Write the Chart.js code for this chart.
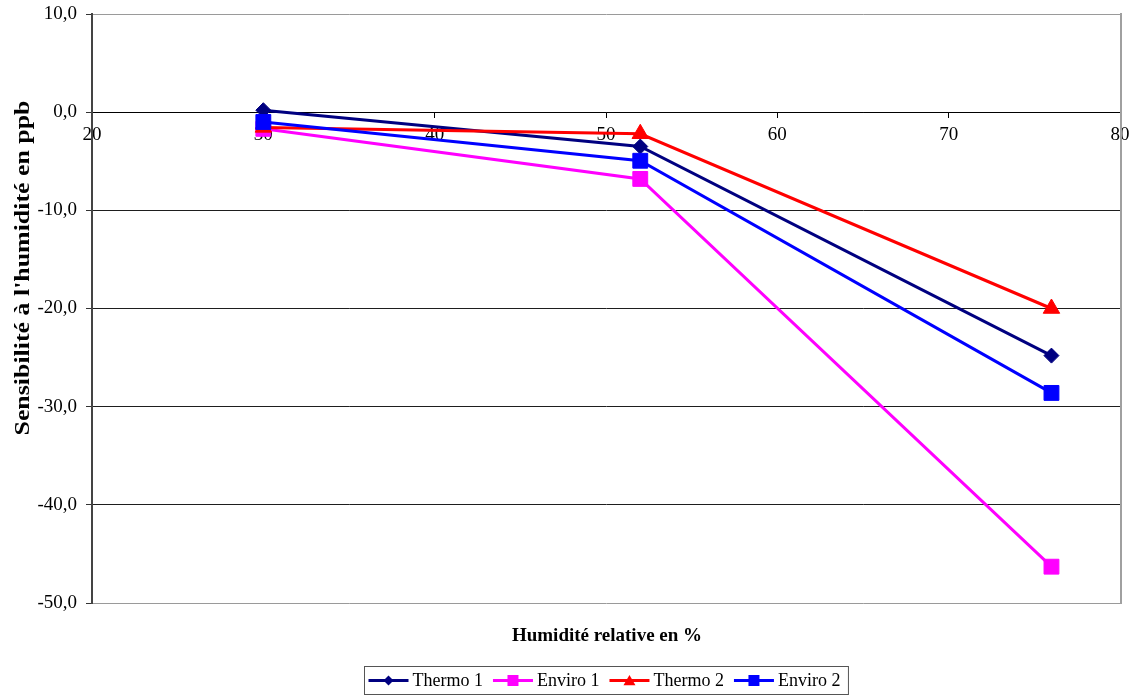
<!DOCTYPE html>
<html lang="fr">
<head>
<meta charset="utf-8">
<title>Sensibilité à l'humidité</title>
<script src="https://cdn.jsdelivr.net/npm/chart.js@4/dist/chart.umd.min.js"></script>
<style>
  html, body { margin: 0; padding: 0; background: #ffffff; }
  canvas { display: block; }
</style>
</head>
<body>
<canvas id="c" width="1142" height="697"></canvas>
<script>
// Humidité relative (%) des points de mesure
const humidity = [30, 52, 76];

// Sensibilité à l'humidité (ppb) par analyseur
const thermo1 = [0.2, -3.5, -24.8];
const enviro1 = [-1.7, -6.8, -46.3];
const thermo2 = [-1.55, -2.2, -20.0];
const enviro2 = [-1.0, -4.95, -28.6];

const seriesNames = ['Thermo 1', 'Enviro 1', 'Thermo 2', 'Enviro 2'];
const seriesColors = ['#000080', '#ff00ff', '#ff0000', '#0000ff'];
const seriesMarkers = ['rectRot', 'rect', 'triangle', 'rect'];
const markerRadius = [7.5, 10.5, 9.5, 10.5];

const xTitle = 'Humidité relative en %';
const yTitle = "Sensibilité à l'humidité en ppb";

const FONT = "'Liberation Serif', 'Times New Roman', serif";

const seriesValues = [thermo1, enviro1, thermo2, enviro2];

function toPoints(values) {
  return humidity.map((h, i) => ({ x: h, y: values[i] }));
}

const datasets = seriesNames.map((name, i) => ({
  label: name,
  data: toPoints(seriesValues[i]),
  borderColor: seriesColors[i],
  backgroundColor: seriesColors[i],
  pointBackgroundColor: seriesColors[i],
  pointBorderColor: seriesColors[i],
  pointStyle: seriesMarkers[i],
  pointRadius: markerRadius[i],
  pointHoverRadius: markerRadius[i],
  pointBorderWidth: 1,
  borderWidth: 3,
  tension: 0,
  fill: false,
  clip: false,
  // later series are painted over earlier ones
  order: seriesNames.length - i
}));

// small marker shapes for the legend
function drawMarker(ctx, style, x, y, size, color) {
  ctx.save();
  ctx.fillStyle = color;
  ctx.beginPath();
  if (style === 'rectRot') {
    ctx.moveTo(x - size, y); ctx.lineTo(x, y - size);
    ctx.lineTo(x + size, y); ctx.lineTo(x, y + size);
  } else if (style === 'triangle') {
    ctx.moveTo(x - size, y + size * 0.8); ctx.lineTo(x, y - size * 0.9);
    ctx.lineTo(x + size, y + size * 0.8);
  } else {
    ctx.rect(x - size, y - size, size * 2, size * 2);
  }
  ctx.closePath();
  ctx.fill();
  ctx.restore();
}

const decorations = {
  id: 'decorations',
  beforeDatasetsDraw(chart) {
    const { ctx, chartArea } = chart;
    // right frame edge of the plot area
    ctx.save();
    ctx.strokeStyle = '#a0a0a0';
    ctx.lineWidth = 2;
    ctx.beginPath();
    ctx.moveTo(chartArea.right + 1, chartArea.top - 1);
    ctx.lineTo(chartArea.right + 1, chartArea.bottom + 1);
    ctx.stroke();
    ctx.restore();
  },
  afterDraw(chart) {
    const { ctx, chartArea } = chart;
    const cx = (chartArea.left + chartArea.right) / 2;

    // axis titles
    ctx.save();
    ctx.fillStyle = '#000';
    ctx.font = 'bold 19px ' + FONT;
    ctx.textAlign = 'center';
    ctx.textBaseline = 'middle';
    ctx.fillText(xTitle, cx + 1, 636);
    ctx.font = 'bold 21px ' + FONT;
    ctx.translate(24, 268);
    ctx.rotate(-Math.PI / 2);
    const w = ctx.measureText(yTitle).width;
    ctx.scale(335 / w, 1);
    ctx.fillText(yTitle, 0, 0);
    ctx.restore();

    // legend
    ctx.save();
    ctx.font = '18px ' + FONT;
    ctx.textBaseline = 'middle';
    ctx.textAlign = 'left';
    const lineLen = 40, gapLine = 4, gapItem = 10, padL = 4, padR = 8;
    const widths = seriesNames.map(n => ctx.measureText(n).width);
    let total = padL + padR;
    widths.forEach((tw, i) => { total += lineLen + gapLine + tw + (i ? gapItem : 0); });
    const boxLeft = Math.round(cx - total / 2) + 0.5;
    const boxTop = 666.5, boxH = 28;
    const ly = boxTop + boxH / 2;
    ctx.strokeStyle = '#555';
    ctx.lineWidth = 1;
    ctx.strokeRect(boxLeft, boxTop, total, boxH);
    let x = boxLeft + padL;
    seriesNames.forEach((name, i) => {
      if (i) x += gapItem;
      ctx.strokeStyle = seriesColors[i];
      ctx.lineWidth = 3;
      ctx.beginPath();
      ctx.moveTo(x, ly);
      ctx.lineTo(x + lineLen, ly);
      ctx.stroke();
      const msize = seriesMarkers[i] === 'rectRot' ? 5 : seriesMarkers[i] === 'triangle' ? 6 : 5.5;
      drawMarker(ctx, seriesMarkers[i], x + lineLen / 2, ly, msize, seriesColors[i]);
      x += lineLen + gapLine;
      ctx.fillStyle = '#000';
      ctx.fillText(name, x, ly + 1);
      x += widths[i];
    });
    ctx.restore();
  }
};

new Chart(document.getElementById('c'), {
  type: 'line',
  data: { datasets },
  options: {
    responsive: false,
    devicePixelRatio: 1,
    animation: false,
    layout: { padding: { top: 14, right: 22, bottom: 94, left: 0 } },
    plugins: {
      legend: { display: false },
      tooltip: { enabled: false },
      title: { display: false }
    },
    scales: {
      x: {
        type: 'linear',
        position: { y: 0 },
        min: 20,
        max: 80,
        afterFit(scale) { scale.paddingLeft = 0; scale.paddingRight = 0; },
        ticks: {
          stepSize: 10,
          color: '#000',
          font: { family: FONT, size: 19 },
          padding: 6,
          maxRotation: 0
        },
        grid: {
          drawOnChartArea: false,
          drawTicks: true,
          tickLength: 5,
          tickColor: '#000',
          color: '#000'
        },
        border: { display: true, color: '#000', width: 1 }
      },
      y: {
        type: 'linear',
        position: 'left',
        min: -50,
        max: 10,
        afterFit(scale) {
          scale.width = 92;
          scale.paddingTop = 0;
          scale.paddingBottom = 0;
        },
        ticks: {
          stepSize: 10,
          color: '#000',
          font: { family: FONT, size: 19 },
          padding: 9,
          callback: v => v.toFixed(1).replace('.', ',')
        },
        grid: {
          drawTicks: true,
          tickLength: 6,
          tickColor: '#333',
          lineWidth: 1,
          color: c => (c.tick && (c.tick.value === 10 || c.tick.value === -50)) ? '#9a9a9a' : '#1e1e1e'
        },
        border: { display: true, color: '#444', width: 2 }
      }
    }
  },
  plugins: [decorations]
});
</script>
</body>
</html>
